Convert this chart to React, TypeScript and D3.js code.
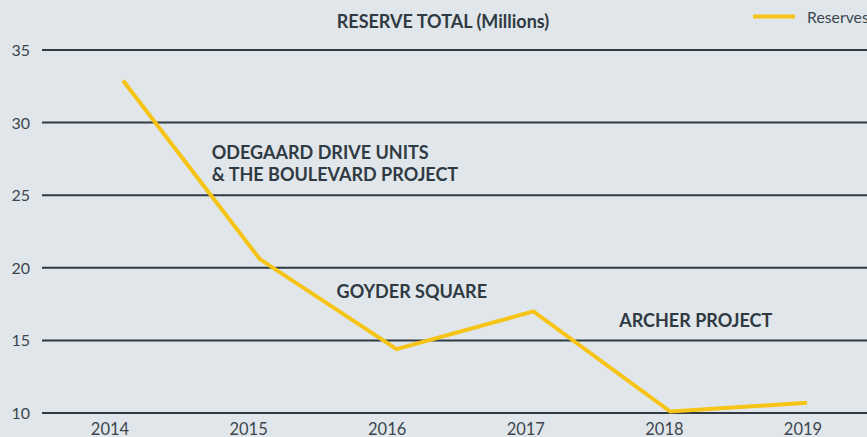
import React from "react";
import * as d3 from "d3";

const years = ["2014", "2015", "2016", "2017", "2018", "2019"];
const reserves = [32.9, 20.6, 14.4, 17.0, 10.1, 10.7];
const yTicks = [10, 15, 20, 25, 30, 35];
const annotations = [
  { lines: ["ODEGAARD DRIVE UNITS", "& THE BOULEVARD PROJECT"], year: "2015", value: 27.5, dx: -48 },
  { lines: ["GOYDER SQUARE"], year: "2016", value: 17.92, dx: -60 },
  { lines: ["ARCHER PROJECT"], year: "2018", value: 15.92, dx: -51 },
];

const W = 867;
const H = 437;
const FONT = "Lato, 'Open Sans', sans-serif";
const DARK = "#2f3a43";
const BG = "#e1e6ea";
const YELLOW = "#f6c416";

export default function App() {
  const y = d3.scaleLinear().domain([10, 35]).range([413, 50]);
  const xLine = d3.scalePoint<string>().domain(years).range([123, 807]);
  const xLabel = d3.scalePoint<string>().domain(years).range([110, 803]);
  const line = d3
    .line<number>()
    .x((_, i) => xLine(years[i]) as number)
    .y((d) => y(d));

  return (
    <div style={{ position: "fixed", left: 0, top: 0, width: W, height: H }}>
      <svg width={W} height={H} style={{ display: "block", fontFamily: FONT }}>
        <rect x={0} y={0} width={W} height={H} fill={BG} />
        <text x={443} y={28} textAnchor="middle" fontSize={18} fontWeight={700} fill={DARK}>
          RESERVE TOTAL (Millions)
        </text>
        <line x1={753} x2={795} y1={16.5} y2={16.5} stroke={YELLOW} strokeWidth={4} />
        <text x={807} y={22.5} fontSize={15.8} fill="#3b4650">
          Reserves
        </text>
        {yTicks.map((t) => (
          <g key={t}>
            <line x1={42} x2={W} y1={y(t)} y2={y(t)} stroke={DARK} strokeWidth={2} />
            <text x={30} y={y(t) + 6} textAnchor="end" fontSize={16} fill="#3b4650">
              {t}
            </text>
          </g>
        ))}
        {years.map((yr) => (
          <text key={yr} x={xLabel(yr)} y={435} textAnchor="middle" fontSize={16.5} fill="#3b4650">
            {yr}
          </text>
        ))}
        <path d={line(reserves) || ""} fill="none" stroke={YELLOW} strokeWidth={4} strokeLinejoin="miter" />
        {annotations.map((a, i) => (
          <text key={i} x={(xLine(a.year) as number) + a.dx} y={y(a.value)} fontSize={18} fontWeight={700} fill={DARK}>
            {a.lines.map((l, j) => (
              <tspan key={j} x={(xLine(a.year) as number) + a.dx} dy={j === 0 ? 0 : 22}>
                {l}
              </tspan>
            ))}
          </text>
        ))}
      </svg>
    </div>
  );
}
